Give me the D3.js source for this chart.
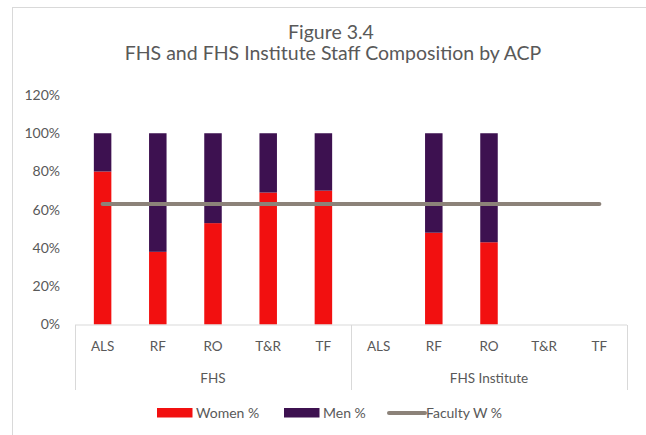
<!DOCTYPE html>
<html>
<head>
    <title>FHS Staff Composition</title>
    <script src="https://d3js.org/d3.v7.min.js"></script>
    <style>
        body { margin: 0; background: #fff; }
        text { font-family: "Lato", "Open Sans", sans-serif; }
    </style>
</head>
<body>
    <div id="chart"></div>
    <script>
        // data
        var groups = ["FHS", "FHS Institute"];
        var categories = ["ALS", "RF", "RO", "T&R", "TF"];
        var womenPct = [80, 38, 53, 69, 70, null, 48, 43, null, null];
        var menPct = [20, 62, 47, 31, 30, null, 52, 57, null, null];
        var facultyW = [63, 63, 63, 63, 63, 63, 63, 63, 63, 63];
        var yTicks = [0, 20, 40, 60, 80, 100, 120];

        var width = 646, height = 435;
        var colWomen = "#f21010", colMen = "#3d1150", colLine = "#8c8279";

        var rows = [];
        groups.forEach(function(g, gi) {
            categories.forEach(function(c, ci) {
                var i = gi * categories.length + ci;
                rows.push({key: g + "|" + c, group: g, cat: c, women: womenPct[i], men: menPct[i], fac: facultyW[i]});
            });
        });

        var svg = d3.select("#chart").append("svg")
            .attr("width", width)
            .attr("height", height);

        // chart frame
        svg.append("rect")
            .attr("x", 12.5).attr("y", 7.5)
            .attr("width", 660).attr("height", 440)
            .attr("fill", "none")
            .attr("stroke", "#d9d9d9");

        svg.append("text")
            .attr("x", 331).attr("y", 39)
            .attr("text-anchor", "middle")
            .style("font-size", "19.5px")
            .style("fill", "#595959")
            .text("Figure 3.4");
        svg.append("text")
            .attr("x", 333).attr("y", 60)
            .attr("text-anchor", "middle")
            .style("font-size", "19.5px")
            .style("fill", "#595959")
            .text("FHS and FHS Institute Staff Composition by ACP");

        var x = d3.scaleBand()
            .domain(rows.map(function(d) { return d.key; }))
            .range([75, 627])
            .paddingInner(0.683)
            .paddingOuter(0.3415);

        var y = d3.scaleLinear()
            .domain([0, 120])
            .range([324.5, 95]);

        // y axis labels, no line
        var yAxis = svg.append("g")
            .attr("transform", "translate(60,0)")
            .call(d3.axisLeft(y).tickValues(yTicks).tickSize(0).tickPadding(0)
                .tickFormat(function(d) { return d + "%"; }));
        yAxis.select(".domain").remove();
        yAxis.selectAll("text")
            .style("font-family", "Lato, 'Open Sans', sans-serif")
            .style("font-size", "14px")
            .style("fill", "#595959");

        // stacked bars
        var bars = svg.append("g");
        bars.selectAll(".women")
            .data(rows.filter(function(d) { return d.women != null; }))
            .enter().append("rect")
            .attr("class", "women")
            .attr("x", function(d) { return x(d.key); })
            .attr("width", x.bandwidth())
            .attr("y", function(d) { return y(d.women); })
            .attr("height", function(d) { return y(0) - y(d.women); })
            .attr("fill", colWomen);
        bars.selectAll(".men")
            .data(rows.filter(function(d) { return d.men != null; }))
            .enter().append("rect")
            .attr("class", "men")
            .attr("x", function(d) { return x(d.key); })
            .attr("width", x.bandwidth())
            .attr("y", function(d) { return y(d.women + d.men); })
            .attr("height", function(d) { return y(d.women) - y(d.women + d.men); })
            .attr("fill", colMen);

        // faculty women % line
        var line = d3.line()
            .x(function(d) { return x(d.key) + x.bandwidth() / 2; })
            .y(function(d) { return y(d.fac); });
        svg.append("path")
            .datum(rows)
            .attr("d", line)
            .attr("fill", "none")
            .attr("stroke", colLine)
            .attr("stroke-width", 4)
            .attr("stroke-linecap", "round");

        // multi-level x axis
        var axisY = y(0) + 0.5;
        var ax = svg.append("g");
        ax.append("line")
            .attr("x1", 75).attr("x2", 627)
            .attr("y1", axisY).attr("y2", axisY)
            .attr("stroke", "#d9d9d9");
        var step = x.step();
        var bounds = [75];
        groups.forEach(function(g, gi) { bounds.push(75 + step * categories.length * (gi + 1)); });
        ax.selectAll(".div")
            .data(bounds)
            .enter().append("line")
            .attr("x1", function(d) { return Math.round(d) + 0.5; })
            .attr("x2", function(d) { return Math.round(d) + 0.5; })
            .attr("y1", axisY).attr("y2", 390)
            .attr("stroke", "#d9d9d9");

        ax.selectAll(".cat")
            .data(rows)
            .enter().append("text")
            .attr("x", function(d) { return x(d.key) + x.bandwidth() / 2; })
            .attr("y", 351)
            .attr("text-anchor", "middle")
            .style("font-size", "13.5px")
            .style("fill", "#595959")
            .text(function(d) { return d.cat; });

        ax.selectAll(".grp")
            .data(groups)
            .enter().append("text")
            .attr("x", function(d, i) { return (bounds[i] + bounds[i + 1]) / 2; })
            .attr("y", 383)
            .attr("text-anchor", "middle")
            .style("font-size", "13.5px")
            .style("fill", "#595959")
            .text(function(d) { return d; });

        // legend
        var legend = svg.append("g");
        var items = [
            {label: "Women %", type: "rect", color: colWomen, x: 157},
            {label: "Men %", type: "rect", color: colMen, x: 284},
            {label: "Faculty W %", type: "line", color: colLine, x: 387}
        ];
        items.forEach(function(it) {
            if (it.type == "rect") {
                legend.append("rect")
                    .attr("x", it.x).attr("y", 408)
                    .attr("width", 35.5).attr("height", 9.5)
                    .attr("fill", it.color);
            } else {
                legend.append("line")
                    .attr("x1", it.x + 2).attr("x2", it.x + 38)
                    .attr("y1", 413).attr("y2", 413)
                    .attr("stroke", it.color)
                    .attr("stroke-width", 4)
                    .attr("stroke-linecap", "round");
            }
            legend.append("text")
                .attr("x", it.x + 39).attr("y", 417.5)
                .style("font-size", "14px")
                .style("fill", "#595959")
                .text(it.label);
        });
    </script>
</body>
</html>
